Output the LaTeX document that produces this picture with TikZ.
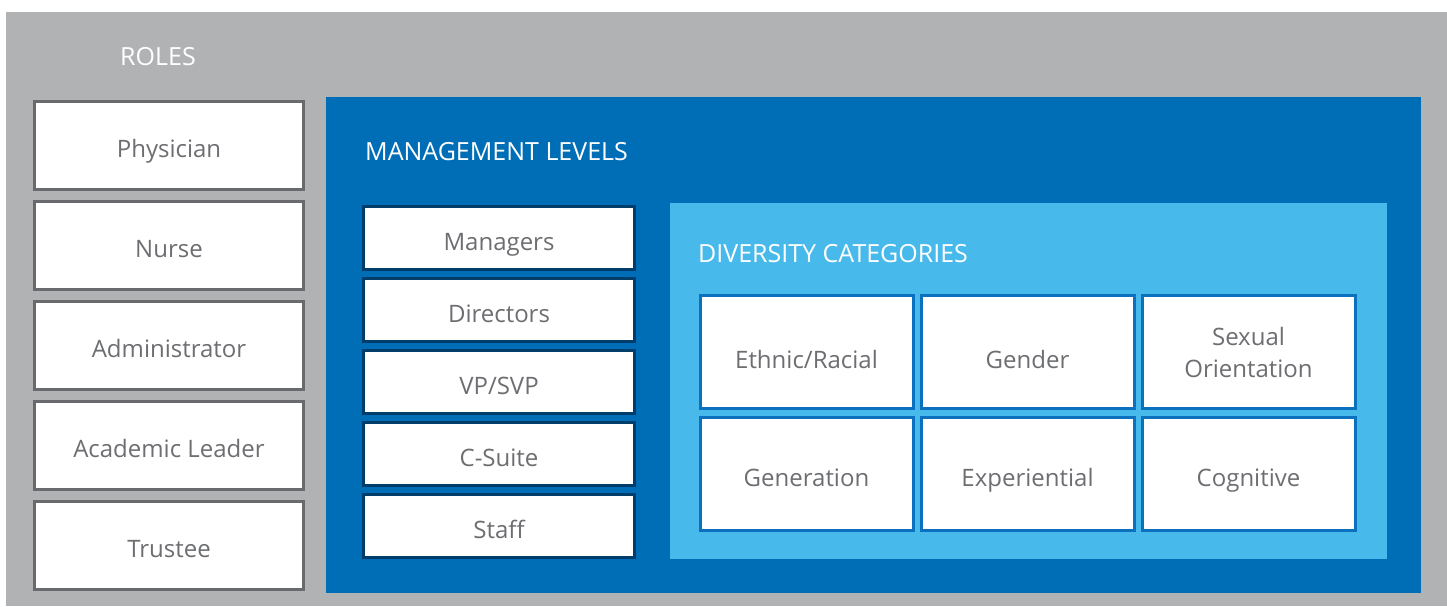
\documentclass[tikz,border=0pt]{standalone}
\usepackage{fontspec}
\setmainfont{Open Sans}
\definecolor{panelgray}{RGB}{177,178,180}
\definecolor{panelblue}{RGB}{0,110,183}
\definecolor{panelsky}{RGB}{72,185,235}
\definecolor{rolerule}{RGB}{104,106,110}
\definecolor{levelrule}{RGB}{0,61,107}
\definecolor{catrule}{RGB}{11,112,190}
\definecolor{boxtext}{RGB}{109,110,113}
\tikzset{
  cell/.style={fill=white, line width=3pt, text=boxtext, align=center, inner sep=0pt, text height=24pt, text depth=0pt},
  lowline/.style={text height=32pt},
  twoline/.style={text height={}, text depth={}},
  heading/.style={anchor=base west, text=white, inner sep=0pt, font=\fontsize{25}{30}\selectfont}
}
\begin{document}
\begin{tikzpicture}[x=1pt, y=-1pt, font=\fontsize{24}{32}\selectfont]
\useasboundingbox (0,0) rectangle (1447,606);
\fill[panelgray] (6,12) rectangle (1447,606);
\fill[panelblue] (326,97) rectangle (1421,593);
\fill[panelsky] (670,203) rectangle (1387,559);
\node[heading] (roles) at (120,65) {ROLES};
\node[heading] (levels) at (365,160) {MANAGEMENT LEVELS};
\node[heading] (cats) at (698,262) {DIVERSITY CATEGORIES};
\foreach \t [count=\i] in {Physician,Nurse,Administrator,Academic Leader,Trustee} {
  \node[cell, draw=rolerule, minimum width=269pt, minimum height=88pt] (role\i) at (169,{145.5+100*(\i-1)}) {\t};
}
\foreach \t [count=\i] in {Managers,Directors,VP/SVP,C-Suite,Staff} {
  \node[cell, draw=levelrule, minimum width=271pt, minimum height=63pt] (level\i) at (499,{238+72*(\i-1)}) {\t};
}
\foreach \t/\o [count=\i from 0, evaluate=\i as \cx using {806.5+221*mod(\i,3)}, evaluate=\i as \cy using {352+122*int(\i/3)}] in {{Ethnic/Racial}/lowline,Gender/lowline,{Sexual\\Orientation}/twoline,Generation/{},Experiential/{},Cognitive/{}} {
  \node[cell, draw=catrule, minimum width=213pt, minimum height=113pt, \o] (cat\i) at (\cx,\cy) {\t};
}
\end{tikzpicture}
\end{document}
